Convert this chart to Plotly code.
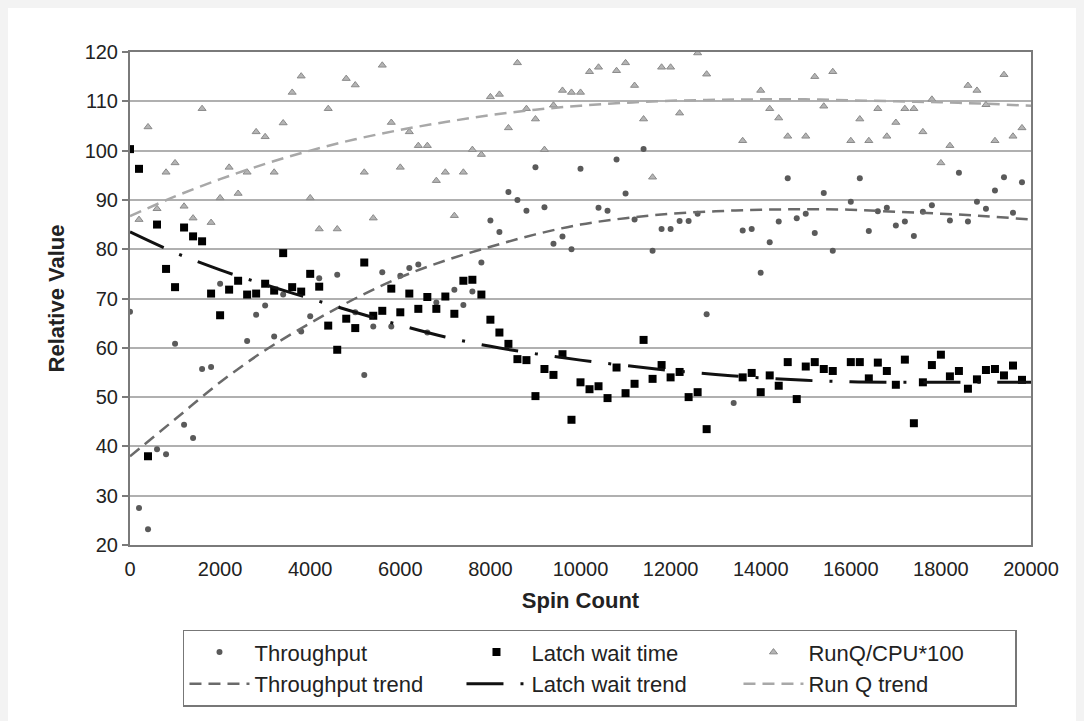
import plotly.graph_objects as go

spin_count = [i * 200 for i in range(101)]

throughput = [
    67.3, 27.5, 23.2, 39.4, 38.4, 60.8, 44.4, 41.7, 55.7, 56.1,
    73.0, None, None, 61.4, 66.7, 68.6, 62.3, 70.8, None, 63.3,
    66.4, 74.1, None, 74.8, None, 67.2, 54.5, 64.3, 75.3, 64.3,
    74.6, 76.2, 76.9, 63.1, 69.2, None, 71.8, 68.7, 71.4, 77.3,
    85.8, 83.5, 91.6, 90.0, 87.8, 96.6, 88.5, 81.1, 82.6, 80.0,
    96.3, None, 88.4, 87.8, 98.2, 91.3, 86.0, 100.3, 79.7, 84.1,
    84.1, 85.7, 85.7, 87.2, 66.8, None, None, 48.8, 83.8, 84.1,
    75.2, 81.4, 85.6, 94.4, 86.3, 87.2, 83.3, 91.4, 79.7, None,
    89.6, 94.4, 83.7, 87.7, 88.4, 84.8, 85.6, 82.7, 87.6, 88.9,
    None, 85.8, 95.5, 85.6, 89.6, 88.2, 91.9, 94.6, 87.4, 93.6,
    None,
]

latch_wait = [
    100.3, 96.3, 38.0, 85.0, 76.0, 72.3, 84.4, 82.6, 81.6, 71.0,
    66.6, 71.8, 73.6, 70.8, 71.0, 73.0, 71.6, 79.2, 72.3, 71.4,
    75.0, 72.4, 64.5, 59.6, 65.9, 64.0, 77.3, 66.5, 67.5, 72.0,
    67.2, 71.0, 67.9, 70.3, 67.9, 70.4, 66.9, 73.6, 73.8, 70.8,
    65.7, 63.1, 60.8, 57.7, 57.5, 50.2, 55.7, 54.5, 58.7, 45.4,
    53.0, 51.6, 52.2, 49.8, 56.0, 50.8, 52.7, 61.6, 53.7, 56.5,
    54.0, 55.1, 50.0, 51.0, 43.5, None, None, None, 54.0, 54.9,
    51.0, 54.4, 52.3, 57.1, 49.6, 56.2, 57.1, 55.7, 55.3, None,
    57.1, 57.1, 53.8, 57.0, 55.3, 52.5, 57.6, 44.7, 53.0, 56.5,
    58.6, 54.2, 55.3, 51.7, 53.6, 55.5, 55.7, 54.4, 56.4, 53.5,
    None,
]

runq_cpu = [
    None, 86.0, 104.8, 88.2, 95.6, 97.5, 88.7, 86.3, 108.5, 85.4,
    90.4, 96.6, 91.3, 95.6, 103.8, 102.8, 95.6, 105.6, 111.8, 115.1,
    90.4, 84.1, 108.5, 84.1, 114.6, 113.3, 95.6, 86.3, 117.3, 105.7,
    96.6, 103.8, 101.0, 101.0, 93.9, 95.6, 86.8, 95.6, 100.2, 99.2,
    110.9, 111.4, 104.6, 117.8, 108.5, 106.4, 100.2, 109.2, 112.2, 111.8,
    111.8, 116.0, 116.9, None, 116.2, 117.8, 113.2, 106.4, 94.6, 116.9,
    116.9, 107.6, None, 119.8, 115.5, None, None, None, 102.0, None,
    112.2, 108.5, 106.6, 102.9, None, 102.9, 115.0, 109.0, 116.0, None,
    102.0, 106.4, 102.0, 108.5, 102.9, 105.7, 108.5, 108.5, 103.8, 110.4,
    97.5, 101.0, None, 113.2, 112.2, 109.3, 102.0, 115.4, 102.9, 104.6,
    None,
]

trend_x = [i * 1000 for i in range(21)]
throughput_trend = [38.0, 45.5, 53.0, 59.5, 65.0, 70.0, 74.3, 77.7, 80.5, 83.0,
                    85.0, 86.3, 87.2, 87.7, 88.0, 88.1, 88.0, 87.6, 87.2, 86.7, 86.0]
latch_trend = [83.5, 79.3, 75.8, 72.8, 70.0, 67.2, 64.6, 62.2, 60.3, 58.8,
               57.5, 56.4, 55.4, 54.6, 53.9, 53.4, 53.1, 53.0, 53.0, 53.0, 53.0]
runq_trend = [86.7, 90.7, 94.2, 97.3, 100.0, 102.3, 104.2, 105.8, 107.2, 108.3,
              109.1, 109.7, 110.1, 110.3, 110.4, 110.4, 110.2, 110.0, 109.8, 109.5, 109.1]

x_ticks = list(range(0, 20001, 2000))
y_ticks = list(range(20, 121, 10))

FONT = "Liberation Sans, Arial, Helvetica, sans-serif"

fig = go.Figure()

fig.add_trace(go.Scatter(
    x=spin_count, y=throughput, mode="markers", name="Throughput",
    marker=dict(symbol="circle", size=6, color="#5a5a5a"),
))
fig.add_trace(go.Scatter(
    x=spin_count, y=latch_wait, mode="markers", name="Latch wait time",
    marker=dict(symbol="square", size=8, color="#000000"),
))
fig.add_trace(go.Scatter(
    x=spin_count, y=runq_cpu, mode="markers", name="RunQ/CPU*100",
    marker=dict(symbol="triangle-up", size=7, color="#b4b4b4",
                line=dict(color="#8a8a8a", width=1)),
))
fig.add_trace(go.Scatter(
    x=trend_x, y=throughput_trend, mode="lines", name="Throughput trend",
    line=dict(color="#6a6a6a", width=2.5, dash="12px,7px", shape="spline"),
))
fig.add_trace(go.Scatter(
    x=trend_x, y=latch_trend, mode="lines", name="Latch wait trend",
    line=dict(color="#111111", width=3, dash="37px,17px,3px,17px", shape="spline"),
))
fig.add_trace(go.Scatter(
    x=trend_x, y=runq_trend, mode="lines", name="Run Q trend",
    line=dict(color="#a8a8a8", width=2.5, dash="12px,7px", shape="spline"),
))

fig.update_layout(
    width=1072, height=721,
    margin=dict(l=122, r=49, t=44, b=184),
    paper_bgcolor="white",
    plot_bgcolor="white",
    font=dict(family=FONT, size=20, color="#222222"),
    showlegend=True,
    legend=dict(
        orientation="h",
        x=0.0588, y=-0.172, xanchor="left", yanchor="top",
        entrywidth=202, entrywidthmode="pixels",
        itemwidth=60,
        bgcolor="white", bordercolor="#777777", borderwidth=1.5,
        font=dict(family=FONT, size=22, color="#222222"),
        traceorder="normal",
        tracegroupgap=0,
    ),
    xaxis=dict(
        range=[0, 20000], tickvals=x_ticks, ticktext=[str(v) for v in x_ticks],
        showgrid=False, zeroline=False,
        showline=True, linecolor="#7a7a7a", linewidth=2, mirror=True,
        ticks="outside", ticklen=5, tickcolor="rgba(0,0,0,0)",
        tickfont=dict(size=20, family=FONT, color="#222222"),
        title=dict(text="<b>Spin Count</b>", font=dict(size=22, family=FONT, color="#222222"), standoff=14),
    ),
    yaxis=dict(
        range=[20, 120], tickvals=y_ticks,
        showgrid=True, gridcolor="#b0b0b0", gridwidth=2, zeroline=False,
        showline=True, linecolor="#7a7a7a", linewidth=2, mirror=True,
        ticks="outside", ticklen=6, tickcolor="#7a7a7a", tickwidth=1.5,
        tickfont=dict(size=20, family=FONT, color="#222222"),
        title=dict(text="<b>Relative Value</b>", font=dict(size=22, family=FONT, color="#222222"), standoff=14),
    ),
)

fig.write_html("out.html", post_script="document.body.style.background='#f3f3f3';")
